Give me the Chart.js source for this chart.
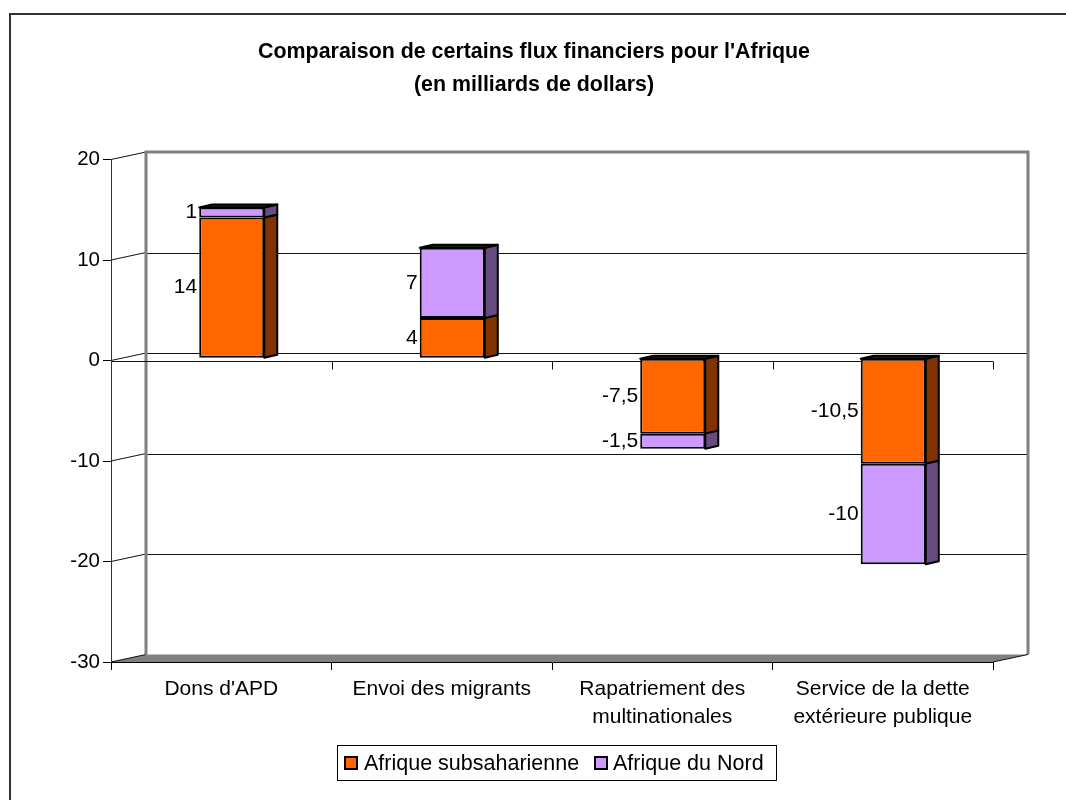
<!DOCTYPE html>
<html>
<head>
<meta charset="utf-8">
<script src="https://cdn.jsdelivr.net/npm/chart.js@4.4.1/dist/chart.umd.min.js"></script>
<style>
  html, body { margin: 0; padding: 0; background: #fff; }
  canvas { display: block; }
</style>
</head>
<body>
<canvas id="c" width="1066" height="800"></canvas>
<script>
// ---- data ----
const chartTitle = ["Comparaison de certains flux financiers pour l'Afrique", "(en milliards de dollars)"];
const categories = [["Dons d'APD"], ["Envoi des migrants"], ["Rapatriement des", "multinationales"], ["Service de la dette", "extérieure publique"]];
const seriesNames = ["Afrique subsaharienne", "Afrique du Nord"];
const subsaharan = [14, 4, -7.5, -10.5];
const northAfrica = [1, 7, -1.5, -10];
const yTickValues = [-30, -20, -10, 0, 10, 20];

// ---- styling ----
const FONT = "'Liberation Sans', Arial, sans-serif";
const DEPTH_X = 35, DEPTH_Y = -7.5;      // wall depth
const BAR_DX = 10.5, BAR_DY = -2.25;     // bar front plane shift
const BAR_DEPTH_X = 13, BAR_DEPTH_Y = -3; // bar depth

function fmt(v) { return String(v).replace('.', ','); }

const threeD = {
  id: 'threeD',
  beforeDraw(chart) {
    const ctx = chart.ctx, a = chart.chartArea, y = chart.scales.y;
    ctx.save();
    ctx.fillStyle = '#fff';
    ctx.fillRect(0, 0, chart.width, chart.height);
    // outer frame
    ctx.strokeStyle = '#333';
    ctx.lineWidth = 2;
    ctx.strokeRect(10, 14, 2000, 2000);
    // title
    ctx.fillStyle = '#000';
    ctx.font = 'bold 21.4px ' + FONT;
    ctx.textAlign = 'center';
    ctx.textBaseline = 'middle';
    ctx.fillText(chartTitle[0], 534, 52.5);
    ctx.fillText(chartTitle[1], 534, 85.5);

    const bl = a.left + DEPTH_X, br = a.right + DEPTH_X;
    const yTop = y.getPixelForValue(y.max) + DEPTH_Y;
    const yBot = y.getPixelForValue(y.min) + DEPTH_Y;
    // floor
    ctx.fillStyle = '#808080';
    ctx.beginPath();
    ctx.moveTo(a.left, a.bottom);
    ctx.lineTo(bl, yBot);
    ctx.lineTo(br, yBot);
    ctx.lineTo(a.right, a.bottom);
    ctx.closePath();
    ctx.fill();
    // back gridlines + side-wall diagonals
    ctx.strokeStyle = '#111';
    ctx.lineWidth = 1;
    yTickValues.forEach(v => {
      const fy = y.getPixelForValue(v);
      if (v !== y.max && v !== y.min) {
        ctx.beginPath();
        ctx.moveTo(bl, Math.round(fy + DEPTH_Y) + 0.5);
        ctx.lineTo(br, Math.round(fy + DEPTH_Y) + 0.5);
        ctx.stroke();
      }
      ctx.beginPath();
      ctx.moveTo(a.left, fy);
      ctx.lineTo(bl, fy + DEPTH_Y);
      ctx.stroke();
    });
    // back wall outline
    ctx.strokeStyle = '#808080';
    ctx.lineWidth = 3;
    ctx.beginPath();
    ctx.moveTo(bl, yBot);
    ctx.lineTo(bl, yTop);
    ctx.lineTo(br, yTop);
    ctx.lineTo(br, yBot);
    ctx.stroke();
    // floor right diagonal + front zero line with category ticks
    ctx.strokeStyle = '#111';
    ctx.lineWidth = 1;
    ctx.beginPath();
    ctx.moveTo(a.right, a.bottom);
    ctx.lineTo(br, yBot);
    ctx.stroke();
    const y0 = Math.round(y.getPixelForValue(0)) + 0.5;
    ctx.beginPath();
    ctx.moveTo(a.left, y0);
    ctx.lineTo(a.right, y0);
    const n = chart.data.labels.length;
    for (let i = 1; i <= n; i++) {
      const gx = Math.round(a.left + (a.right - a.left) * i / n) + 0.5;
      ctx.moveTo(gx, y0);
      ctx.lineTo(gx, y0 + 8);
    }
    ctx.stroke();
    ctx.restore();
  },
  beforeDatasetsDraw(chart) {
    const ctx = chart.ctx;
    ctx.save();
    ctx.translate(BAR_DX, BAR_DY);
    const n = chart.data.labels.length;
    for (let i = 0; i < n; i++) {
      let topEl = null;
      chart.data.datasets.forEach((ds, di) => {
        const el = chart.getDatasetMeta(di).data[i];
        const top = Math.min(el.y, el.base), bot = Math.max(el.y, el.base);
        const right = el.x + el.width / 2;
        ctx.beginPath();
        ctx.moveTo(right, top);
        ctx.lineTo(right + BAR_DEPTH_X, top + BAR_DEPTH_Y);
        ctx.lineTo(right + BAR_DEPTH_X, bot + BAR_DEPTH_Y);
        ctx.lineTo(right, bot);
        ctx.closePath();
        ctx.fillStyle = ds.sideColor;
        ctx.fill();
        ctx.strokeStyle = '#000';
        ctx.lineWidth = 2;
        ctx.lineJoin = 'round';
        ctx.stroke();
        if (!topEl || top < Math.min(topEl.y, topEl.base)) { topEl = el; }
      });
      const top = Math.min(topEl.y, topEl.base);
      const left = topEl.x - topEl.width / 2, right = topEl.x + topEl.width / 2;
      ctx.beginPath();
      ctx.moveTo(left, top);
      ctx.lineTo(left + BAR_DEPTH_X, top + BAR_DEPTH_Y);
      ctx.lineTo(right + BAR_DEPTH_X, top + BAR_DEPTH_Y);
      ctx.lineTo(right, top);
      ctx.closePath();
      ctx.fillStyle = '#222';
      ctx.fill();
      ctx.strokeStyle = '#000';
      ctx.lineWidth = 2;
      ctx.stroke();
    }
  },
  afterDatasetsDraw(chart) {
    const ctx = chart.ctx;
    ctx.fillStyle = '#000';
    ctx.font = '21px ' + FONT;
    ctx.textAlign = 'right';
    ctx.textBaseline = 'middle';
    chart.data.datasets.forEach((ds, di) => {
      chart.getDatasetMeta(di).data.forEach((el, i) => {
        const top = Math.min(el.y, el.base), bot = Math.max(el.y, el.base);
        ctx.fillText(fmt(ds.data[i]), el.x - el.width / 2 - 2, (top + bot) / 2);
      });
    });
    ctx.restore();
  },
  afterDraw(chart) {
    const ctx = chart.ctx;
    ctx.save();
    // legend
    ctx.strokeStyle = '#000';
    ctx.lineWidth = 1;
    ctx.strokeRect(337.5, 745.5, 439, 35);
    ctx.font = '21.5px ' + FONT;
    ctx.textAlign = 'left';
    ctx.textBaseline = 'middle';
    const items = [{ x: 345, tx: 364 }, { x: 595, tx: 613 }];
    chart.data.datasets.forEach((ds, i) => {
      const it = items[i];
      ctx.fillStyle = ds.backgroundColor;
      ctx.fillRect(it.x, 757, 12, 12);
      ctx.lineWidth = 2;
      ctx.strokeStyle = '#000';
      ctx.strokeRect(it.x, 757, 12, 12);
      ctx.fillStyle = '#000';
      ctx.fillText(ds.label, it.tx, 764);
    });
    ctx.restore();
  }
};

new Chart(document.getElementById('c'), {
  type: 'bar',
  data: {
    labels: categories,
    datasets: [
      { label: seriesNames[0], data: subsaharan, backgroundColor: '#FF6600', sideColor: '#803300',
        borderColor: '#000', borderWidth: 2, borderSkipped: false },
      { label: seriesNames[1], data: northAfrica, backgroundColor: '#CC99FF', sideColor: '#664C80',
        borderColor: '#000', borderWidth: 2, borderSkipped: false }
    ]
  },
  options: {
    responsive: false,
    animation: false,
    devicePixelRatio: 1,
    layout: { padding: { top: 159.5, left: 0, right: 73, bottom: 0 } },
    plugins: { legend: { display: false }, title: { display: false }, tooltip: { enabled: false } },
    datasets: { bar: { categoryPercentage: 1, barPercentage: 0.295 } },
    scales: {
      x: {
        stacked: true,
        offset: true,
        grid: { display: true, drawOnChartArea: false, drawTicks: true, tickLength: 8, color: '#000', offset: true },
        border: { display: true, color: '#000', width: 1 },
        ticks: { color: '#000', font: { size: 21, family: FONT, lineHeight: 1.3 }, padding: 6, maxRotation: 0, autoSkip: false },
        afterFit: s => { s.height = 138; }
      },
      y: {
        stacked: true,
        min: -30, max: 20,
        afterBuildTicks: s => { s.ticks = yTickValues.map(v => ({ value: v })); },
        grid: { display: true, drawOnChartArea: false, drawTicks: true, tickLength: 8, color: '#000' },
        border: { display: true, color: '#333', width: 1 },
        ticks: { color: '#000', font: { size: 20.5, family: FONT }, padding: 3, callback: v => String(v) },
        afterFit: s => { s.width = 111; }
      }
    }
  },
  plugins: [threeD]
});
</script>
</body>
</html>
